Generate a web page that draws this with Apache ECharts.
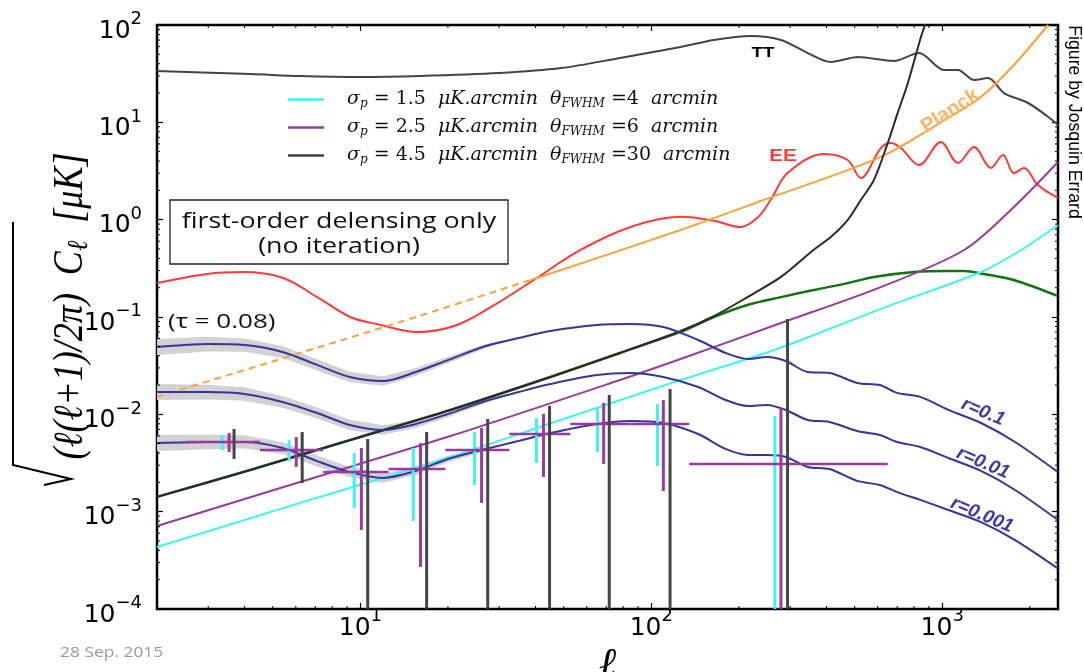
<!DOCTYPE html>
<html>
<head>
<meta charset="utf-8">
<title>B-mode delensing forecast</title>
<script src="https://cdn.jsdelivr.net/npm/echarts@6/dist/echarts.min.js"></script>
<style>
html, body { margin: 0; padding: 0; background: #fff; }
#chart { width: 1084px; height: 672px; }
</style>
</head>
<body>
<div id="chart"></div>
<script>
// ---- spectra, sqrt(l(l+1)/2pi C_l) in uK ----

// multipoles shared by the three primordial tensor curves
const ellR = [2, 3, 4, 5.4, 7.1, 9.2, 12, 15.5, 20, 27, 35, 45, 65, 85, 110, 145, 180, 215, 250, 290, 345, 410, 510, 610, 700, 840, 1050, 1360, 1780, 2500];
const bbR1 = [0.0492, 0.0527, 0.0515, 0.0437, 0.0322, 0.0242, 0.0220, 0.0272, 0.0361, 0.0503, 0.0608, 0.0718, 0.0828, 0.0848, 0.0789, 0.0581, 0.0427, 0.0370, 0.0388, 0.0353, 0.0272, 0.0266, 0.0210, 0.0200, 0.0166, 0.0151, 0.0111, 0.00815, 0.00520, 0.00255];
const bbR2 = [0.01694, 0.01694, 0.01618, 0.01340, 0.01033, 0.00777, 0.00690, 0.00796, 0.01008, 0.01371, 0.01694, 0.02047, 0.02535, 0.02659, 0.02416, 0.01910, 0.01403, 0.01219, 0.01248, 0.01107, 0.00875, 0.00834, 0.00674, 0.00614, 0.00520, 0.00462, 0.00356, 0.00262, 0.00167, 0.00082];
const bbR3 = [0.00507, 0.00520, 0.00520, 0.00451, 0.00331, 0.00255, 0.00222, 0.00262, 0.00348, 0.00441, 0.00532, 0.00643, 0.00796, 0.00853, 0.00815, 0.00628, 0.00441, 0.00382, 0.00382, 0.00365, 0.00288, 0.00274, 0.00207, 0.00188, 0.00159, 0.00132, 0.00104, 0.00078, 0.00051, 0.00026];
const rLabels = ['r=0.1', 'r=0.01', 'r=0.001'];
// optical-depth uncertainty (tau = 0.08), multiplicative spread on the first multipoles
const tauSpread = [1.21, 1.19, 1.17, 1.15, 1.14, 1.13, 1.12, 1.10, 1.08, 1.05, 1.0];

const ellTT = [2, 4.2, 6.2, 10, 16, 30, 49, 78, 126, 164, 220, 279, 345, 414, 513, 682, 832, 1014, 1133, 1286, 1437, 1631, 1972, 2311, 2500];
const valTT = [33.7, 31.4, 29.9, 29.2, 29.9, 32.1, 36.1, 45.8, 59.4, 70.2, 77.1, 70.2, 51.5, 41.7, 46.9, 42.7, 51.5, 34.5, 34.5, 27.2, 28.5, 20.0, 15.8, 11.4, 9.4];

const ellEE = [2, 2.97, 3.95, 5.43, 7.11, 9.23, 11.4, 15.7, 21.5, 29.6, 38.5, 57.1, 84.9, 126, 164, 203, 232, 257, 294, 392, 473, 525, 615, 666, 721, 832, 989, 1133, 1286, 1469, 1617, 1764, 1910, 2134, 2500];
const valEE = [0.223, 0.277, 0.290, 0.252, 0.160, 0.100, 0.0847, 0.0701, 0.0828, 0.139, 0.229, 0.488, 0.841, 1.07, 0.977, 0.841, 1.05, 1.59, 3.01, 4.73, 4.10, 2.68, 5.44, 6.14, 5.44, 3.65, 6.28, 3.82, 5.58, 3.40, 4.62, 3.01, 3.40, 2.27, 1.67];

// Planck polarization noise: extrapolated (dashed) below l~40
const ellPlanckLow = [2, 13.7, 38.5];
const valPlanckLow = [0.0151, 0.0889, 0.240];
const ellPlanck = [38.5, 126, 243, 615, 1047, 1358, 1764, 2310];
const valPlanck = [0.240, 0.783, 1.59, 4.41, 11.1, 18.2, 38.8, 100];

// lensing B-modes
const ellLens = [2, 4.18, 10, 20.4, 45, 78, 126, 164, 214, 279, 361, 473, 582, 800, 1047, 1189, 1391, 1764, 2500];
const valLens = [1.42e-3, 2.68e-3, 5.85e-3, 1.11e-2, 2.42e-2, 4.27e-2, 7.02e-2, 0.100, 0.133, 0.160, 0.189, 0.223, 0.258, 0.290, 0.297, 0.297, 0.277, 0.240, 0.164];

// instrumental noise curves
const noiseNames = ['n15', 'n25', 'n45'];
const noiseSigma = ['1.5', '2.5', '4.5'];
const noiseBeam = ['4', '6', '30'];
const ellN15 = [2, 6.2, 20.4, 48.8, 126, 264, 655, 1358, 1867, 2500];
const valN15 = [4.33e-4, 1.23e-3, 3.65e-3, 8.75e-3, 2.25e-2, 4.58e-2, 0.130, 0.290, 0.488, 0.881];
const ellN25 = [2, 6.2, 20.4, 78, 126, 279, 615, 1189, 1764, 2500];
const valN25 = [7.13e-4, 2.02e-3, 5.98e-3, 2.25e-2, 3.70e-2, 8.67e-2, 0.203, 0.488, 1.35, 3.91];
const ellN45 = [2, 4.18, 10, 20.4, 45, 78, 126, 164, 214, 279, 361, 414, 473, 525, 582, 650, 703, 762, 845, 872, 900];
const valN45 = [1.42e-3, 2.68e-3, 5.85e-3, 1.11e-2, 2.42e-2, 4.27e-2, 7.18e-2, 0.102, 0.160, 0.258, 0.488, 0.663, 0.99, 1.59, 2.55, 6.14, 12.5, 25.4, 75.4, 100, 160];

// binned r=0.001 band powers and their errors (0 = lower bound not positive)
const binLo = [2.52, 4.52, 7.45, 12.5, 19.6, 32.5, 52.7, 84.9, 135];
const binHi = [4.52, 7.45, 12.5, 19.6, 32.5, 52.7, 84.9, 135, 650];
const binVal = [5.20e-3, 4.30e-3, 2.55e-3, 2.74e-3, 4.30e-3, 6.28e-3, 7.96e-3, 7.96e-3, 3.09e-3];
const errEllN15 = [3.35, 5.69, 9.53, 15.2, 24.7, 40.3, 65.3, 105, 266];
const errLoN15 = [4.30e-3, 3.31e-3, 1.09e-3, 8.02e-4, 1.88e-3, 3.16e-3, 4.10e-3, 2.94e-3, 0];
const errHiN15 = [6.14e-3, 5.44e-3, 4.01e-3, 4.51e-3, 6.58e-3, 9.16e-3, 0.0119, 0.0128, 9.62e-3];
const errEllN25 = [3.54, 6.02, 10.08, 16.1, 26.1, 42.6, 68.6, 110, 279];
const errLoN25 = [4.10e-3, 2.88e-3, 6.49e-4, 2.70e-4, 1.23e-3, 2.27e-3, 3.09e-3, 1.63e-3, 0];
const errHiN25 = [6.43e-3, 5.85e-3, 4.51e-3, 5.07e-3, 7.23e-3, 0.0101, 0.0131, 0.0140, 0.0116];
const errEllN45 = [3.68, 6.31, 10.6, 16.9, 27.4, 44.7, 71.7, 116, 294];
const errLoN45 = [3.48e-3, 1.97e-3, 0, 0, 0, 0, 0, 0, 0];
const errHiN45 = [7.06e-3, 6.58e-3, 5.57e-3, 6.58e-3, 8.95e-3, 0.0122, 0.0158, 0.0182, 0.0953];

// ---- layout and styling ----
const X_MIN = 2, X_MAX = 2500, Y_MIN = 1e-4, Y_MAX = 1e2;
const SERIF = "'Liberation Serif', 'DejaVu Serif', serif";
const MATH = "'DejaVu Serif', serif";
const SANS = "'Liberation Sans', Arial, sans-serif";
const HUMAN = "'Open Sans', 'Noto Sans', sans-serif";
const C_CYAN = '#3ff4f4', C_PURPLE = '#9b3a9e', C_GREY = '#3f3f3f', C_BLUE = '#35359c';

const chart = echarts.init(document.getElementById('chart'), null, { renderer: 'canvas' });

function pairs(xs, ys) { return xs.map((x, i) => [x, ys[i]]); }

function curve(name, xs, ys, color, width, extra) {
  return Object.assign({
    type: 'line', name: name, data: pairs(xs, ys), symbol: 'none', smooth: 0.3,
    color: color, lineStyle: { color: color, width: width }, silent: true, z: 3
  }, extra || {});
}

function band(vals) {
  return {
    type: 'custom', silent: true, z: 1, clip: true,
    data: [[ellR[0], vals[0]]],
    renderItem: function (params, api) {
      const up = [], dn = [];
      for (let i = 0; i < tauSpread.length; i++) {
        up.push(api.coord([ellR[i], vals[i] * tauSpread[i]]));
        dn.push(api.coord([ellR[i], vals[i] / tauSpread[i]]));
      }
      return { type: 'polygon', shape: { points: up.concat(dn.reverse()) }, style: { fill: '#d2d2d2' } };
    }
  };
}

function vErr(xs, lo, hi, color, z) {
  return {
    type: 'custom', silent: true, z: z, clip: true,
    data: xs.map((x, i) => [x, lo[i] > 0 ? lo[i] : Y_MIN, hi[i]]),
    encode: { x: 0, y: [1, 2] },
    renderItem: function (params, api) {
      const a = api.coord([api.value(0), api.value(1)]);
      const b = api.coord([api.value(0), api.value(2)]);
      return { type: 'line', shape: { x1: a[0], y1: a[1], x2: b[0], y2: b[1] }, style: { stroke: color, lineWidth: 3 } };
    }
  };
}

function hBins() {
  return {
    type: 'custom', silent: true, z: 6, clip: true,
    data: binLo.map((l, i) => [l, binHi[i], binVal[i]]),
    encode: { x: [0, 1], y: 2 },
    renderItem: function (params, api) {
      const a = api.coord([api.value(0), api.value(2)]);
      const b = api.coord([api.value(1), api.value(2)]);
      return { type: 'line', shape: { x1: a[0], y1: a[1], x2: b[0], y2: b[1] }, style: { stroke: C_PURPLE, lineWidth: 2.5 } };
    }
  };
}

// minor log ticks on all four sides of the frame
const minorX = [], minorY = [];
for (let k = 0; k < 4; k++) for (let m = 2; m < 10; m++) {
  const v = m * Math.pow(10, k);
  if (v > X_MIN && v < X_MAX) minorX.push(v);
}
for (let k = -4; k < 2; k++) for (let m = 2; m < 10; m++) minorY.push(m * Math.pow(10, k));

function minorTicks() {
  const items = minorX.map(v => [v, Y_MIN, 0]).concat(minorY.map(v => [X_MIN, v, 1]));
  return {
    type: 'custom', silent: true, z: 10, clip: false,
    data: items,
    renderItem: function (params, api) {
      const v0 = api.value(0), v1 = api.value(1), isY = api.value(2) === 1;
      let a, b, d;
      if (!isY) {
        a = api.coord([v0, Y_MIN]); b = api.coord([v0, Y_MAX]);
        d = [[a[0], a[1], a[0], a[1] - 3], [b[0], b[1], b[0], b[1] + 3]];
      } else {
        a = api.coord([X_MIN, v1]); b = api.coord([X_MAX, v1]);
        d = [[a[0], a[1], a[0] + 3, a[1]], [b[0], b[1], b[0] - 3, b[1]]];
      }
      return {
        type: 'group', children: d.map(s => ({
          type: 'line', shape: { x1: s[0], y1: s[1], x2: s[2], y2: s[3] }, style: { stroke: '#000', lineWidth: 1 }
        }))
      };
    }
  };
}

function powerLabel(v) {
  const e = Math.log10(v);
  const k = Math.round(e);
  if (Math.abs(e - k) > 1e-6) return '';
  return '{b|10}{s|' + (k < 0 ? '\u2212' + (-k) : String(k)) + '}';
}
const powRich = {
  b: { fontFamily: 'DejaVu Sans', fontSize: 25, color: '#000', lineHeight: 30, padding: [12, 0, 0, 0] },
  s: { fontFamily: 'DejaVu Sans', fontSize: 18, color: '#000', lineHeight: 18, padding: [0, 0, 11, 0] }
};

function legendText(i) {
  return '{i|\u03c3}{sub|p}{n| = ' + noiseSigma[i] + '  }{i|\u03bcK.arcmin  \u03b8}{sub|FWHM}{n| =' + noiseBeam[i] + '  }{i|arcmin}';
}

const tickCommon = { show: true, inside: true, length: 6, lineStyle: { color: '#000', width: 1.2 } };

const option = {
  animation: false,
  backgroundColor: '#fff',
  grid: { left: 157, right: 26, top: 25, bottom: 63, show: true, borderColor: '#000', borderWidth: 2.5, containLabel: false, outerBoundsMode: 'none' },
  legend: {
    data: noiseNames, orient: 'vertical', left: 283, top: 84,
    itemWidth: 36, itemHeight: 2.5, itemGap: 7, icon: 'rect', selectedMode: false,
    formatter: function (name) { return legendText(noiseNames.indexOf(name)); },
    textStyle: {
      color: '#111', padding: [0, 0, 0, 18],
      rich: {
        i: { fontFamily: MATH, fontStyle: 'italic', fontSize: 19, color: '#111', lineHeight: 22 },
        n: { fontFamily: MATH, fontSize: 19, color: '#111', lineHeight: 22 },
        sub: { fontFamily: MATH, fontStyle: 'italic', fontSize: 12, color: '#111', lineHeight: 13, padding: [9, 0, 0, 0] }
      }
    }
  },
  xAxis: [{
    type: 'log', logBase: 10, min: X_MIN, max: X_MAX, position: 'bottom',
    axisLine: { show: false }, splitLine: { show: false }, axisTick: tickCommon,
    axisLabel: { margin: -2, formatter: powerLabel, rich: powRich, showMinLabel: false, showMaxLabel: false },
    name: '\u2113', nameLocation: 'middle', nameGap: 33,
    nameTextStyle: { fontFamily: SERIF, fontStyle: 'italic', fontSize: 42, color: '#000' }
  }, {
    type: 'log', logBase: 10, min: X_MIN, max: X_MAX, position: 'top',
    axisLine: { show: false }, splitLine: { show: false }, axisTick: tickCommon, axisLabel: { show: false }
  }],
  yAxis: [{
    type: 'log', logBase: 10, min: Y_MIN, max: Y_MAX, position: 'left',
    axisLine: { show: false }, splitLine: { show: false }, axisTick: tickCommon,
    axisLabel: { margin: 15, formatter: powerLabel, rich: powRich }
  }, {
    type: 'log', logBase: 10, min: Y_MIN, max: Y_MAX, position: 'right',
    axisLine: { show: false }, splitLine: { show: false }, axisTick: tickCommon, axisLabel: { show: false }
  }],
  series: [
    band(bbR1), band(bbR2), band(bbR3),
    curve('TT', ellTT, valTT, '#444444', 2),
    curve('EE', ellEE, valEE, '#ff3838', 2, { smooth: 0.35 }),
    curve('Planck low-l', ellPlanckLow, valPlanckLow, '#ffa03a', 2, { lineStyle: { color: '#ffa03a', width: 2, type: [7, 5] } }),
    curve('Planck', ellPlanck, valPlanck, '#ffa03a', 2),
    curve('lensing', ellLens, valLens, '#137313', 2.5),
    curve('n15', ellN15, valN15, C_CYAN, 2),
    curve('n25', ellN25, valN25, C_PURPLE, 2),
    curve('n45', ellN45, valN45, C_GREY, 2, { lineStyle: { color: '#2a2a2a', width: 2 } }),
    curve(rLabels[0], ellR, bbR1, C_BLUE, 2, { z: 4 }),
    curve(rLabels[1], ellR, bbR2, C_BLUE, 2, { z: 4 }),
    curve(rLabels[2], ellR, bbR3, C_BLUE, 2, { z: 4 }),
    vErr(errEllN15, errLoN15, errHiN15, C_CYAN, 5),
    vErr(errEllN25, errLoN25, errHiN25, C_PURPLE, 5),
    hBins(),
    vErr(errEllN45, errLoN45, errHiN45, '#454545', 7),
    minorTicks()
  ],
  graphic: [
    // inset note
    { type: 'rect', z: 20, shape: { x: 170, y: 200, width: 338, height: 64 }, style: { fill: '#fff', stroke: '#222', lineWidth: 1.3 } },
    { type: 'text', z: 21, x: 339, y: 234, scaleX: 1.22, style: { text: 'first-order delensing only\n(no iteration)', fontFamily: HUMAN, fontSize: 22, lineHeight: 25, fill: '#111', align: 'center', verticalAlign: 'middle' } },
    { type: 'text', z: 21, x: 168, y: 322, scaleX: 1.3, style: { text: '(\u03c4 = 0.08)', fontFamily: HUMAN, fontSize: 20, fill: '#111', align: 'left', verticalAlign: 'middle' } },
    // curve labels
    { type: 'text', z: 21, x: 763, y: 53, scaleX: 1.25, style: { text: 'TT', fontFamily: SANS, fontWeight: 'bold', fontSize: 15, fill: '#000', align: 'center', verticalAlign: 'middle' } },
    { type: 'text', z: 21, x: 783, y: 156, scaleX: 1.25, style: { text: 'EE', fontFamily: SANS, fontWeight: 'bold', fontSize: 16.5, fill: '#ff3838', align: 'center', verticalAlign: 'middle' } },
    { type: 'text', z: 21, x: 950, y: 111, rotation: 33 * Math.PI / 180, style: { text: 'Planck', fontFamily: SANS, fontWeight: 'bold', fontSize: 20, fill: '#ffb465', align: 'center', verticalAlign: 'middle' } },
    { type: 'text', z: 21, x: 983, y: 412, rotation: -23 * Math.PI / 180, style: { text: rLabels[0], fontFamily: SANS, fontWeight: 'bold', fontStyle: 'italic', fontSize: 19, fill: '#3c3ca6', align: 'center', verticalAlign: 'middle' } },
    { type: 'text', z: 21, x: 983, y: 463, rotation: -23 * Math.PI / 180, style: { text: rLabels[1], fontFamily: SANS, fontWeight: 'bold', fontStyle: 'italic', fontSize: 19, fill: '#3c3ca6', align: 'center', verticalAlign: 'middle' } },
    { type: 'text', z: 21, x: 982, y: 515, rotation: -23 * Math.PI / 180, style: { text: rLabels[2], fontFamily: SANS, fontWeight: 'bold', fontStyle: 'italic', fontSize: 19, fill: '#3c3ca6', align: 'center', verticalAlign: 'middle' } },
    // y-axis title with radical
    { type: 'polyline', z: 21, shape: { points: [[44, 485], [71, 479], [13, 465], [13, 222]] }, style: { stroke: '#000', lineWidth: 2, fill: null } },
    {
      type: 'text', z: 21, x: 71, y: 306, rotation: Math.PI / 2, scaleY: 1.15,
      style: {
        text: '{a|(\u2113(\u2113+1)/2\u03c0)  C}{s|\u2113}{a|  [\u03bcK]}', align: 'center', verticalAlign: 'middle',
        rich: {
          a: { fontFamily: SERIF, fontStyle: 'italic', fontSize: 36, fill: '#000', lineHeight: 42 },
          s: { fontFamily: SERIF, fontStyle: 'italic', fontSize: 25, fill: '#000', lineHeight: 25, padding: [14, 0, 0, 0] }
        }
      }
    },
    // credits
    { type: 'text', z: 21, x: 1074, y: 122, rotation: -Math.PI / 2, scaleX: 0.93, style: { text: 'Figure by Josquin Errard', fontFamily: "'Liberation Sans Narrow', 'Liberation Sans', sans-serif", fontSize: 19, fill: '#000', align: 'center', verticalAlign: 'middle' } },
    { type: 'text', z: 21, x: 60, y: 653, scaleX: 1.16, style: { text: '28 Sep. 2015', fontFamily: HUMAN, fontSize: 15, fill: '#999', align: 'left', verticalAlign: 'middle' } }
  ]
};

chart.setOption(option);
</script>
</body>
</html>
